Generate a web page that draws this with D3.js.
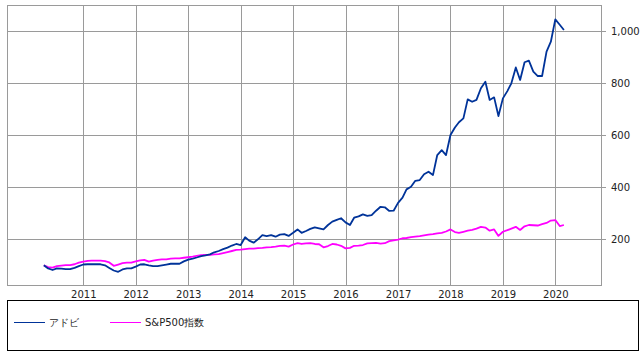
<!DOCTYPE html>
<html><head><meta charset="utf-8">
<script src="https://cdn.jsdelivr.net/npm/d3@7"></script>
<style>
html,body{margin:0;padding:0;background:#fff;}
svg{display:block;font-family:"DejaVu Sans",sans-serif;}
</style></head>
<body>
<svg id="c" width="644" height="356"></svg>
<script>
const startYear = 2010, startMonth = 3; // April 2010, month index 0-based
const seriesNames = ["アドビ", "S&P500指数"];
const seriesColors = ["#003399", "#ff00ff"];
const yearTicks = [2011,2012,2013,2014,2015,2016,2017,2018,2019,2020];
const valueTicks = [200,400,600,800,1000];
const adobe = [100,88,82,88,87,85,85,90,97,103,104,104,104,104,100,90,80,75,84,88,
88,95,103,104,100,97,97,100,103,106,106,106,115,122,126,130,135,138,142,150,
155,162,168,176,182,178,208,195,187,200,216,212,216,210,218,220,213,225,238,225,
232,240,246,242,238,255,268,275,281,265,255,283,288,296,290,293,310,325,323,309,
310,340,360,392,402,425,428,450,460,447,524,543,524,601,630,650,665,738,729,736,
781,806,736,746,674,742,770,800,861,813,881,887,845,828,828,922,960,1046,1025,1005];
const sp500 = [100,93,91,97,99,101,101,104,110,114,117,118,118,118,116,111,98,103,108,110,
110,115,119,121,114,118,121,123,123,126,127,127,129,131,133,136,139,140,140,142,
143,147,151,155,159,160,162,164,164,166,167,169,170,172,175,176,172,180,185,182,
184,185,182,181,169,174,182,180,175,165,167,175,176,178,184,185,186,183,185,193,
196,199,204,205,208,210,212,215,218,220,223,225,230,238,228,225,229,233,236,241,
248,245,233,238,213,229,235,241,248,236,250,255,254,253,258,263,272,274,251,255];

const dates = adobe.map((_, i) => new Date(startYear, startMonth + i, 1));

const svg = d3.select("#c");
const L = 7, R = 601, T = 5, B = 285;
const x = d3.scaleTime().domain([new Date(2011,0,1), new Date(2020,0,1)]).range([83.3, 555.3]);
const y = d3.scaleLinear().domain([0,1000]).range([291.3, 31.3]);

// grid
const grid = svg.append("g").attr("stroke", "#9a9a9a").attr("stroke-width", 1).attr("shape-rendering","crispEdges");
yearTicks.forEach(yr => {
  const xx = Math.round(x(new Date(yr,0,1))) + 0.5;
  grid.append("line").attr("x1", xx).attr("x2", xx).attr("y1", T).attr("y2", B);
});
valueTicks.forEach(v => {
  const yy = Math.round(y(v)) + 0.5;
  grid.append("line").attr("x1", L).attr("x2", R + 5).attr("y1", yy).attr("y2", yy);
});
svg.append("rect").attr("x", L + 0.5).attr("y", T + 0.5).attr("width", R - L).attr("height", B - T)
  .attr("fill", "none").attr("stroke", "#9a9a9a").attr("shape-rendering","crispEdges");

// axis labels
const fmt = d3.format(",");
svg.append("g").selectAll("text").data(valueTicks).join("text")
  .attr("x", 611).attr("y", d => y(d)).attr("dy", "0.35em")
  .attr("font-size", 10).attr("fill", "#222").text(d => fmt(d));
svg.append("g").selectAll("text").data(yearTicks).join("text")
  .attr("x", d => x(new Date(d,0,1)) + 0.5).attr("y", 297.5)
  .attr("text-anchor", "middle").attr("font-size", 10).attr("fill", "#222").text(d => d);

// lines
const line = d3.line().x((d, i) => x(dates[i])).y(d => y(d));
[sp500, adobe].forEach((s, k) => {
  svg.append("path").datum(s).attr("d", line).attr("fill", "none")
    .attr("stroke", k === 0 ? seriesColors[1] : seriesColors[0]).attr("stroke-width", 1.8)
    .attr("stroke-linejoin", "round");
});

// legend
svg.append("rect").attr("x", 7.5).attr("y", 300.5).attr("width", 631).attr("height", 50)
  .attr("fill", "#fff").attr("stroke", "#000").attr("shape-rendering","crispEdges");
const legX = [14, 110];
seriesNames.forEach((n, i) => {
  svg.append("line").attr("x1", legX[i]).attr("x2", legX[i] + 31).attr("y1", 322.5).attr("y2", 322.5)
    .attr("stroke", seriesColors[i]).attr("stroke-width", 1);
  svg.append("text").attr("x", legX[i] + 35).attr("y", 322.5).attr("dy", "0.35em")
    .attr("font-size", 10).attr("fill", "#222").text(n);
});
</script>
</body></html>
